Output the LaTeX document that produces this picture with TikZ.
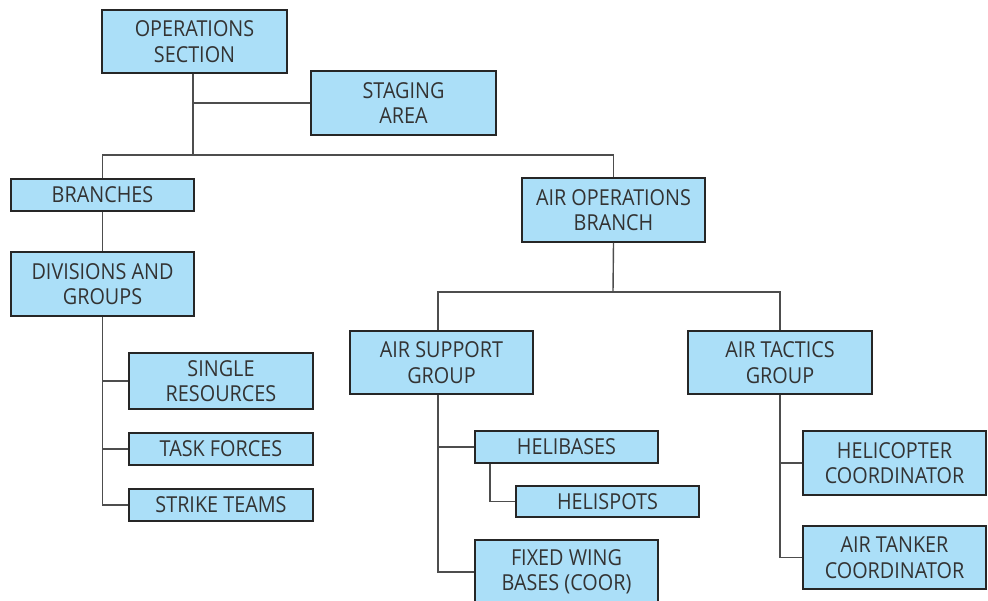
\documentclass[tikz,border=0pt]{standalone}
\usepackage{fontspec}
\setmainfont[FakeStretch=0.9]{Open Sans}
\begin{document}
\begin{tikzpicture}[x=1pt,y=-1pt,
  box/.style={draw=black!85, line width=1.3pt, fill=boxblue, text=textgray,
    align=center, inner sep=0pt, font=\fontsize{22}{25.5}\selectfont},
  link/.style={draw=linegray, line width=1.4pt}]
\definecolor{boxblue}{HTML}{ABDFF8}
\definecolor{textgray}{HTML}{333333}
\definecolor{linegray}{HTML}{4D4D4D}
\useasboundingbox (0,0) rectangle (988,601);
\clip (0,0) rectangle (988,601);

% operations section and its ground branches
\node[box, minimum width=185pt, minimum height=63pt] (ops) at (194.5,41.5) {OPERATIONS\\SECTION};
\node[box, minimum width=185pt, minimum height=64pt] (staging) at (403.5,103) {STAGING\\AREA};
\node[box, minimum width=183pt, minimum height=32pt] (branches) at (102.5,195) {BRANCHES};
\node[box, minimum width=183pt, minimum height=64pt] (divs) at (102.5,284) {DIVISIONS AND\\GROUPS};
\node[box, minimum width=184pt, minimum height=56pt] (single) at (221,381) {SINGLE\\RESOURCES};
\node[box, minimum width=184pt, minimum height=32pt] (task) at (221,449) {TASK FORCES};
\node[box, minimum width=184pt, minimum height=32pt] (strike) at (221,505) {STRIKE TEAMS};

% air operations
\node[box, minimum width=183pt, minimum height=64pt] (airops) at (613.5,210) {AIR OPERATIONS\\BRANCH};
\node[box, minimum width=183pt, minimum height=63pt] (airsup) at (441.5,362.5) {AIR SUPPORT\\GROUP};
\node[box, minimum width=184pt, minimum height=63pt] (airtac) at (780,362.5) {AIR TACTICS\\GROUP};
\node[box, minimum width=183pt, minimum height=32pt] (helibases) at (566.5,447) {HELIBASES};
\node[box, minimum width=183pt, minimum height=31pt] (helispots) at (607.5,501.5) {HELISPOTS};
\node[box, minimum width=183pt, minimum height=64pt] (fixed) at (566.5,572) {FIXED WING\\BASES (COOR)};
\node[box, minimum width=183pt, minimum height=64pt] (helicop) at (894.5,463) {HELICOPTER\\COORDINATOR};
\node[box, minimum width=183pt, minimum height=63pt] (tanker) at (894.5,557.5) {AIR TANKER\\COORDINATOR};

% bus lines
\coordinate (bus1) at (193,155);
\coordinate (bus2) at (613,292);
\coordinate (asx) at (438,292);

\draw[link] ([xshift=-1.5pt]ops.south) -- (bus1);
\draw[link] (bus1 |- staging.west) -- (staging.west);
\draw[link] (branches.north) -- (branches.north |- bus1) -- (airops.north |- bus1) -- (airops.north);
\draw[link] (branches.south) -- (divs.north);
\draw[link] (divs.south) -- (divs.south |- strike.west) -- (strike.west);
\draw[link] (divs.south |- single.west) -- (single.west);
\draw[link] (divs.south |- task.west) -- (task.west);

\draw[link] (airops.south) -- (bus2);
\draw[link] (asx |- airsup.north) -- (asx) -- (airtac.north |- bus2) -- (airtac.north);
\draw[link] (asx |- airsup.south) -- (asx |- fixed.west) -- (fixed.west);
\draw[link] (asx |- helibases.west) -- (helibases.west);
\draw[link] ([xshift=15.5pt]helibases.south west) -- ([xshift=15.5pt]helibases.south west |- helispots.west) -- (helispots.west);
\draw[link] (airtac.south) -- (airtac.south |- tanker.west) -- (tanker.west);
\draw[link] (airtac.south |- helicop.west) -- (helicop.west);
\end{tikzpicture}
\end{document}
